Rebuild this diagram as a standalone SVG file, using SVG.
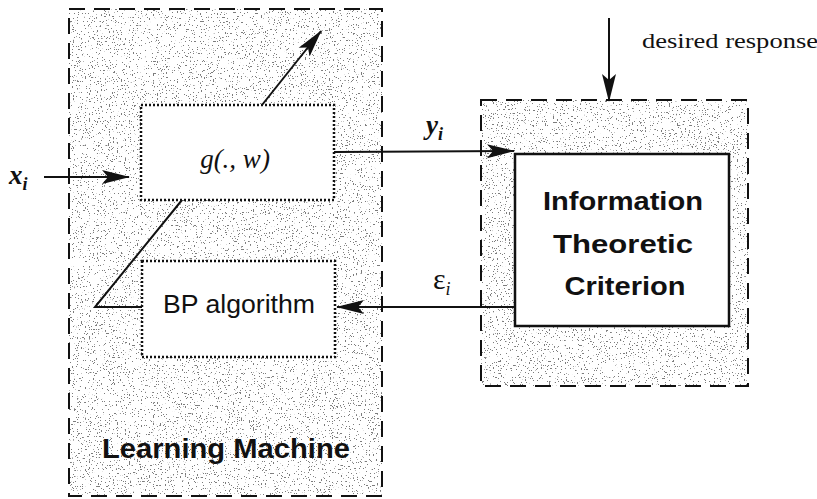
<svg xmlns="http://www.w3.org/2000/svg" width="817" height="499" viewBox="0 0 817 499">
  <style>
    .frame { fill: none; stroke: #111; stroke-width: 2; stroke-dasharray: 16 9; }
    .block { fill: #fff; stroke: #111; stroke-width: 2.5; stroke-dasharray: 2 2; }
    .solid { fill: #fff; stroke: #111; stroke-width: 2.5; }
    .wire { fill: none; stroke: #111; stroke-width: 2; }
    .sans { font-family: "Liberation Sans", Arial, sans-serif; fill: #111; }
    .serif { font-family: "Liberation Serif", "Times New Roman", serif; fill: #111; }
    .bold { font-weight: bold; }
  </style>
  <defs>
    <marker id="head" markerWidth="28" markerHeight="16" refX="27" refY="8" orient="auto" markerUnits="userSpaceOnUse">
      <path d="M0,1 L28,8 L0,15 L6,8 Z" fill="#111"/>
    </marker>
    <!-- sparse speckle used for the shaded regions -->
    <filter id="speckle" x="0" y="0" width="100%" height="100%">
      <feTurbulence type="fractalNoise" baseFrequency="0.75" numOctaves="2" seed="7" result="n"/>
      <feColorMatrix in="n" type="matrix" values="0 0 0 0 0.2  0 0 0 0 0.2  0 0 0 0 0.2  0 0 0 -32 10.6" result="dots"/>
      <feComposite in="dots" in2="SourceGraphic" operator="in"/>
    </filter>
  </defs>

  <rect width="817" height="499" fill="#fff"/>

  <!-- shaded enclosures -->
  <g id="learning-machine">
    <rect x="69" y="9" width="313" height="487" fill="#000" filter="url(#speckle)"/>
    <rect x="69" y="9" width="313" height="487" class="frame"/>
    <text x="226" y="458" text-anchor="middle" class="sans bold" font-size="27" textLength="248" lengthAdjust="spacingAndGlyphs">Learning Machine</text>
  </g>

  <g id="criterion-frame">
    <rect x="481" y="100" width="267" height="286" fill="#000" filter="url(#speckle)"/>
    <rect x="481" y="100" width="267" height="286" class="frame"/>
  </g>

  <g id="mapper">
    <rect x="141" y="105" width="193" height="95" class="block"/>
    <text x="235" y="168" text-anchor="middle" class="serif" font-style="italic" font-size="27">g(., w)</text>
  </g>

  <g id="bp">
    <rect x="142" y="261" width="193" height="96" class="block"/>
    <text x="239" y="313" text-anchor="middle" class="sans" font-size="25" textLength="152" lengthAdjust="spacingAndGlyphs">BP algorithm</text>
  </g>

  <g id="criterion">
    <rect x="515" y="154" width="214" height="172" class="solid"/>
    <text x="623" y="210" text-anchor="middle" class="sans bold" font-size="26" textLength="160" lengthAdjust="spacingAndGlyphs">Information</text>
    <text x="623" y="253" text-anchor="middle" class="sans bold" font-size="26" textLength="140" lengthAdjust="spacingAndGlyphs">Theoretic</text>
    <text x="625" y="295" text-anchor="middle" class="sans bold" font-size="26" textLength="121" lengthAdjust="spacingAndGlyphs">Criterion</text>
  </g>

  <g id="connectors">
    <line x1="44" y1="177" x2="129" y2="177" class="wire" marker-end="url(#head)"/>
    <line x1="262" y1="105" x2="321" y2="31" class="wire" marker-end="url(#head)"/>
    <line x1="334" y1="152" x2="514" y2="151" class="wire" marker-end="url(#head)"/>
    <line x1="609" y1="18" x2="609" y2="101" class="wire" marker-end="url(#head)"/>
    <line x1="515" y1="307" x2="337" y2="307" class="wire" marker-end="url(#head)"/>
    <polyline points="182,200 95,307 142,307" class="wire"/>
  </g>

  <g id="labels">
    <text x="9" y="184" class="serif bold" font-style="italic" font-size="27">x<tspan font-size="18" dy="6">i</tspan></text>
    <text x="426" y="134" class="serif bold" font-style="italic" font-size="27">y<tspan font-size="18" dy="6">i</tspan></text>
    <text x="433" y="289" class="serif" font-size="30">ε<tspan font-size="18" font-style="italic" dy="6">i</tspan></text>
    <text x="642" y="48" class="serif" font-size="22" textLength="176" lengthAdjust="spacingAndGlyphs">desired response</text>
  </g>
</svg>
